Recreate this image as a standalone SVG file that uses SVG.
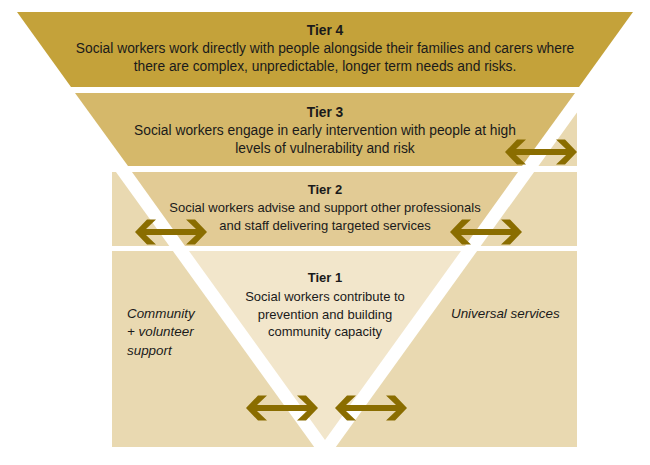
<svg xmlns="http://www.w3.org/2000/svg" xmlns:xlink="http://www.w3.org/1999/xlink" width="650" height="465" viewBox="0 0 650 465">
  <style>
    text { font-family: "Liberation Sans", Arial, sans-serif; font-size: 13.8px; fill: #1a1a1a; }
    .s { font-size: 13px; }
    .m { font-size: 13.4px; }
    .c { text-anchor: middle; }
    .t { font-weight: bold; }
    .i { font-style: italic; }
    .bg { fill: #e9d9b1; }
    .arrow { fill: #8a6d00; }
  </style>
  <defs>
    <path id="dbl" d="M0,0 L12,-12.5 L21,-12.5 L11,-3 L61,-3 L51,-12.5 L60,-12.5 L72,0 L60,12.5 L51,12.5 L61,3 L11,3 L21,12.5 L12,12.5 Z"/>
  </defs>
  <rect width="650" height="465" fill="#ffffff"/>

  <g id="background">
    <rect class="bg" x="112" y="93" width="465" height="73"/>
    <rect class="bg" x="112" y="172" width="465" height="74"/>
    <rect class="bg" x="112" y="251" width="465" height="196"/>
    <polygon points="59,93 591,93 325,462" fill="#ffffff"/>
  </g>

  <g id="tier4">
    <polygon points="17,12 633,12 579,87 71,87" fill="#c4a23a"/>
    <text class="c t" x="325" y="35">Tier 4</text>
    <text class="c" x="325" y="53">Social workers work directly with people alongside their families and carers where</text>
    <text class="c" x="325" y="71">there are complex, unpredictable, longer term needs and risks.</text>
  </g>

  <g id="tier3">
    <polygon points="75,93 575,93 522,166 128,166" fill="#d5b86a"/>
    <text class="c t" x="325" y="117">Tier 3</text>
    <text class="c" x="325" y="135">Social workers engage in early intervention with people at high</text>
    <text class="c" x="325" y="153">levels of vulnerability and risk</text>
  </g>

  <g id="tier2">
    <polygon points="132,172 518,172 465,246 185,246" fill="#e2cb95"/>
    <text class="c t s" x="325" y="194">Tier 2</text>
    <text class="c s" x="325" y="212">Social workers advise and support other professionals</text>
    <text class="c s" x="325" y="230">and staff delivering targeted services</text>
  </g>

  <g id="tier1">
    <polygon points="189,251 461,251 325,440" fill="#f2e6cb"/>
    <text class="c t s" x="325" y="282">Tier 1</text>
    <text class="c s" x="325" y="301">Social workers contribute to</text>
    <text class="c s" x="325" y="319">prevention and building</text>
    <text class="c s" x="325" y="336">community capacity</text>
  </g>

  <g id="community">
    <text class="i m" x="127" y="318">Community</text>
    <text class="i m" x="127" y="336">+ volunteer</text>
    <text class="i m" x="127" y="355">support</text>
  </g>

  <g id="universal">
    <text class="i m" x="451" y="318">Universal services</text>
  </g>

  <g id="connectors" class="arrow">
    <use xlink:href="#dbl" href="#dbl" transform="translate(505,152)"/>
    <use xlink:href="#dbl" href="#dbl" transform="translate(135,232)"/>
    <use xlink:href="#dbl" href="#dbl" transform="translate(450,232)"/>
    <use xlink:href="#dbl" href="#dbl" transform="translate(246,408)"/>
    <use xlink:href="#dbl" href="#dbl" transform="translate(335,408)"/>
  </g>
</svg>
